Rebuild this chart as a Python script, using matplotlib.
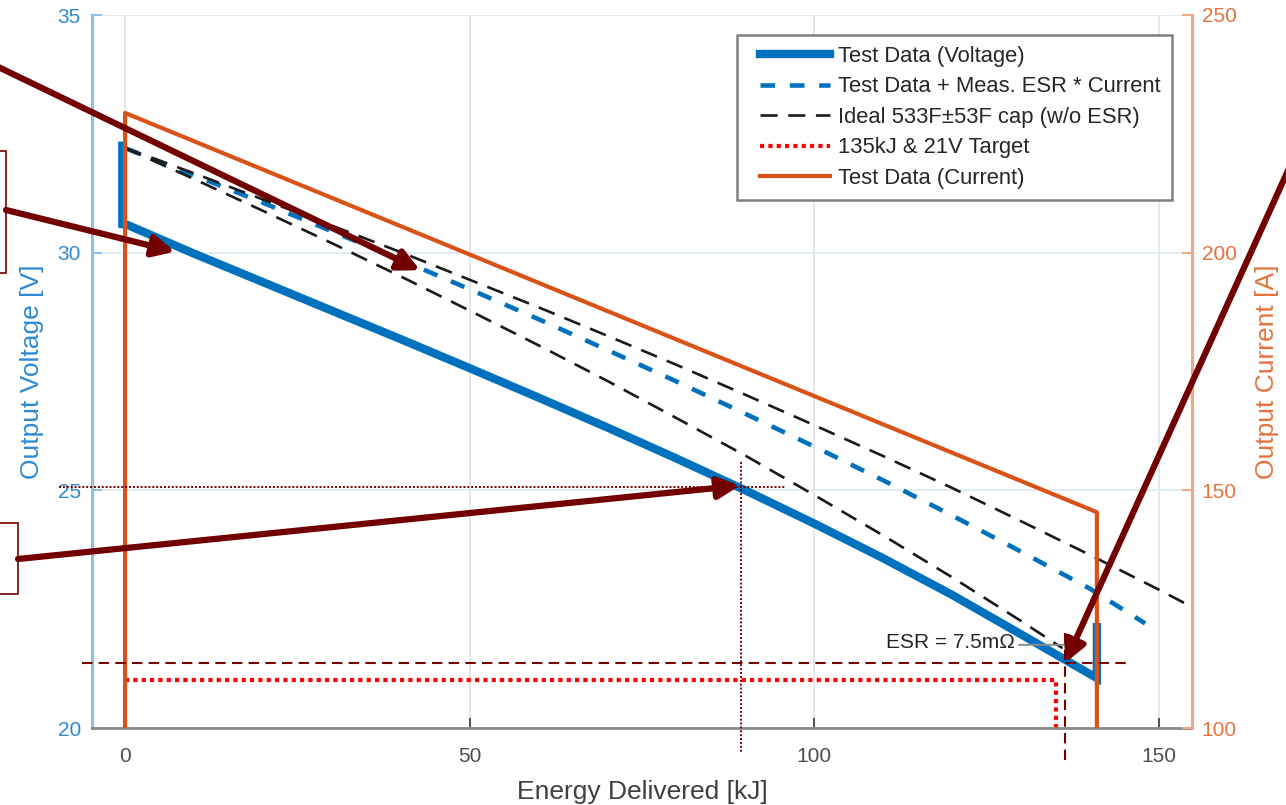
"""Supercap discharge test: output voltage / current vs delivered energy."""

import matplotlib

matplotlib.use("Agg")
import matplotlib.pyplot as plt
from matplotlib.legend_handler import HandlerLine2D
from matplotlib.lines import Line2D
from matplotlib.patches import Rectangle

plt.rcParams["font.family"] = ["Liberation Sans", "DejaVu Sans"]

W, H = 1286, 805

# ---------------------------------------------------------------------------
# Data
# ---------------------------------------------------------------------------
# Test data (voltage), kJ / V
e_volt = [-0.4, -0.4, 0.4, 10, 20, 30, 40, 50, 60, 70, 80, 90, 100, 110, 120, 130, 141.0, 141.0]
v_volt = [32.25, 30.60, 30.58, 29.98, 29.38, 28.78, 28.18, 27.57, 26.95, 26.32,
          25.67, 25.00, 24.30, 23.57, 22.80, 21.97, 21.05, 22.12]

# Test data + measured ESR * current
e_esr = [0, 10, 20, 30, 40, 50, 60, 70, 80, 90, 100, 110, 120, 130, 140, 148]
v_esr = [32.20, 31.63, 31.05, 30.45, 29.85, 29.23, 28.60, 27.95, 27.29, 26.61,
         25.92, 25.21, 24.47, 23.71, 22.93, 22.20]

# Ideal 533F +/- 53F capacitor (upper / lower bound)
e_ideal_hi = [0, 10, 20, 30, 40, 50, 60, 70, 80, 90, 100, 110, 120, 130, 140, 150, 155]
v_ideal_hi = [32.20, 31.67, 31.12, 30.57, 30.01, 29.43, 28.85, 28.25, 27.64, 27.01,
              26.37, 25.72, 25.05, 24.35, 23.64, 22.91, 22.53]
e_ideal_lo = [0, 10, 20, 30, 40, 50, 60, 70, 80, 90, 100, 110, 120, 130, 136]
v_ideal_lo = [32.20, 31.55, 30.88, 30.20, 29.50, 28.78, 28.05, 27.30, 26.52, 25.73,
              24.90, 24.05, 23.17, 22.25, 21.68]

# 135kJ & 21V target
e_target = [0, 135, 135]
v_target = [21, 21, 20]

# Test data (current), kJ / A
e_cur = [0, 0, 141, 141]
i_cur = [100, 229.4, 145.4, 100]

C_BLUE = "#0072BD"
C_ORANGE = "#D95319"
C_DARKRED = "#730000"


def fpx(x, y):
    """Reference pixel (from top-left) -> figure fraction."""
    return x / W, 1 - y / H


fig = plt.figure(figsize=(W / 100, H / 100), dpi=100)
ax = fig.add_axes([92 / W, 1 - 728 / H, 1100 / W, 713 / H])
ax2 = ax.twinx()

ax.plot(e_volt, v_volt, color=C_BLUE, lw=6, solid_joinstyle="miter")
ax.plot(e_esr, v_esr, color=C_BLUE, lw=3.3, linestyle=(0, (3.2, 3.2)))
ax.plot(e_ideal_hi, v_ideal_hi, color="#1a1a1a", lw=1.9, linestyle=(0, (6.5, 4)))
ax.plot(e_ideal_lo, v_ideal_lo, color="#1a1a1a", lw=1.9, linestyle=(0, (6.5, 4)))
ax.plot(e_target, v_target, color="#ff0000", lw=3, linestyle=(0, (1, 1)))
ax2.plot(e_cur, i_cur, color=C_ORANGE, lw=3)

ax.set_xlim(-4.8, 154.8)
ax.set_ylim(20, 35)
ax2.set_ylim(100, 250)
ax.set_xticks([0, 50, 100, 150])
ax.set_yticks([20, 25, 30, 35])
ax2.set_yticks([100, 150, 200, 250])

# axes styling (MATLAB yyaxis look)
for s in ("top", "right"):
    ax.spines[s].set_visible(False)
for s in ("top", "left", "bottom"):
    ax2.spines[s].set_visible(False)
ax.spines["left"].set_color("#8cc0e8")
ax.spines["left"].set_linewidth(2.2)
ax.spines["bottom"].set_color("#8a8a8a")
ax.spines["bottom"].set_linewidth(2)
ax2.spines["right"].set_color("#f0a884")
ax2.spines["right"].set_linewidth(2.2)

ax.tick_params(axis="y", direction="in", length=7, width=1.5, colors="#8cc0e8",
               labelcolor="#2f8ad2", labelsize=15, pad=8)
ax.tick_params(axis="x", direction="in", length=7, width=1.5, colors="#555555",
               labelcolor="#4d4d4d", labelsize=15, pad=14)
ax2.tick_params(axis="y", direction="in", length=7, width=1.5, colors="#f0a884",
                labelcolor="#e4733d", labelsize=15, pad=7)

ax.xaxis.grid(True, color="#e3e3e3", lw=1.2)
ax.yaxis.grid(True, color="#dde9f5", lw=1.2)
ax.set_axisbelow(True)

ax.set_xlabel("Energy Delivered [kJ]", fontsize=19, color="#404040", labelpad=10)
ax.set_ylabel("Output Voltage [V]", fontsize=19, color="#2f8ad2", labelpad=10)
ax2.set_ylabel("Output Current [A]", fontsize=19, color="#e4733d", labelpad=13)

# annotations: guide lines (drawn in voltage coords, outside the axes too)
tv = ax.transData
ax2.plot([-6.2, 145.6], [21.37, 21.37], color=C_DARKRED, lw=1.5,
         linestyle=(0, (5, 3)), transform=tv, clip_on=False)
ax2.plot([136.4, 136.4], [22.0, 19.3], color=C_DARKRED, lw=1.5,
         linestyle=(0, (5, 3)), transform=tv, clip_on=False)
ax2.plot([-9.6, 95.7], [25.08, 25.08], color=C_DARKRED, lw=1.4,
         linestyle=(0, (1, 1)), transform=tv, clip_on=False)
ax2.plot([89.3, 89.3], [25.6, 19.47], color=C_DARKRED, lw=1.4,
         linestyle=(0, (1, 1)), transform=tv, clip_on=False)

# ESR label with its small grey arrow
ax2.text(129.1, 21.79, "ESR = 7.5m\u03a9", transform=tv, ha="right", va="center",
         fontsize=15, color="#262626")
ax2.annotate("", xy=(139.8, 21.75), xycoords=tv, xytext=(129.3, 21.75), textcoords=tv,
             arrowprops=dict(arrowstyle="->,head_length=0.45,head_width=0.25",
                             mutation_scale=14, color="#8c8c8c", lw=1.4))

# callout boxes cut off at the left edge
for (x0, y0, x1, y1) in [(-5, 151, 6, 273), (-5, 523, 18, 594)]:
    fig.patches.append(Rectangle(fpx(x0, y1), (x1 - x0) / W, (y1 - y0) / H,
                                 transform=fig.transFigure, fill=False,
                                 edgecolor=C_DARKRED, lw=1.2))

arrow_kw = dict(arrowstyle="-|>,head_length=0.8,head_width=0.4", mutation_scale=16,
                color=C_DARKRED, lw=4.5, shrinkA=0, shrinkB=0)
callouts = [
    (fpx(-10, 63), (42.8, 29.63)),
    (fpx(6, 210), (7.25, 30.02)),
    (fpx(18, 559), (89.2, 25.1)),
    (fpx(1300, 144), (136.4, 21.37)),
]
for tail, tip in callouts:
    ax2.annotate("", xy=tip, xycoords=tv, xytext=tail, textcoords="figure fraction",
                 arrowprops=arrow_kw, annotation_clip=False)

handles = [
    Line2D([], [], color=C_BLUE, lw=6),
    Line2D([], [], color=C_BLUE, lw=3.3, linestyle=(0, (3.2, 3.2))),
    Line2D([], [], color="#1a1a1a", lw=1.9, linestyle=(0, (6.5, 4))),
    Line2D([], [], color="#ff0000", lw=3, linestyle=(0, (1, 1))),
    Line2D([], [], color=C_ORANGE, lw=3),
]
labels = [
    "Test Data (Voltage)",
    "Test Data + Meas. ESR * Current",
    "Ideal 533F\u00b153F cap (w/o ESR)",
    "135kJ & 21V Target",
    "Test Data (Current)",
]
inset = HandlerLine2D(numpoints=2, marker_pad=0.55)
leg = ax2.legend(handles, labels, loc="upper right", bbox_to_anchor=fpx(1172, 35),
                 bbox_transform=fig.transFigure, borderaxespad=0, fontsize=15.8,
                 fancybox=False, framealpha=1, edgecolor="#808080",
                 handlelength=4.28, handletextpad=-0.18, labelspacing=0.43,
                 borderpad=0.5, handler_map={Line2D: inset})
leg.get_frame().set_linewidth(1.8)
for t in leg.get_texts():
    t.set_color("#262626")

fig.savefig("out.png", dpi=100)
